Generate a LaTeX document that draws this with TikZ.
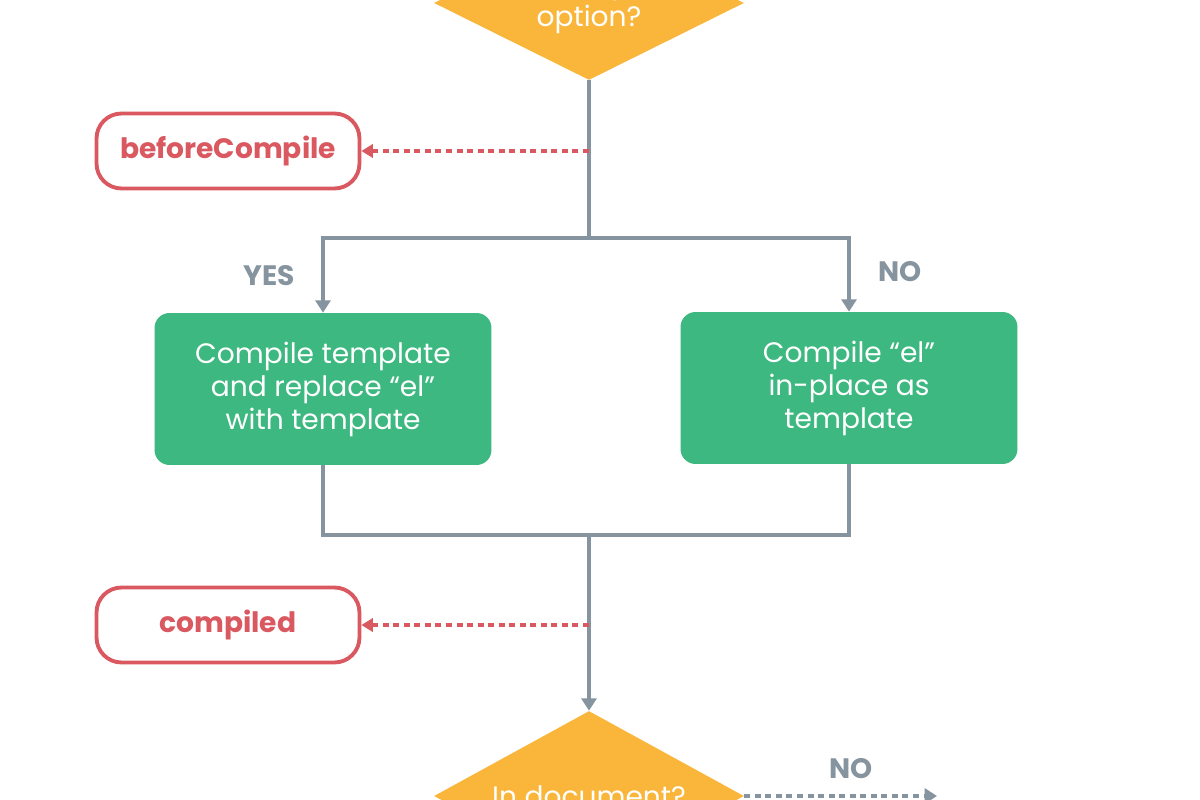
\documentclass[tikz,border=0pt]{standalone}
\usepackage{fontspec}
\setmainfont{Poppins}
\usetikzlibrary{arrows.meta,positioning,calc,shapes.geometric}
\tikzset{>={Triangle[width=8.5pt,length=7pt]}}
\definecolor{decisioncolor}{RGB}{249,182,58}
\definecolor{stepcolor}{RGB}{61,184,128}
\definecolor{hookcolor}{RGB}{218,88,96}
\definecolor{flowcolor}{RGB}{133,148,158}
\newcommand{\diagfont}{\fontsize{16pt}{18.8pt}\selectfont}
\tikzset{
  decision/.style={diamond,fill=decisioncolor,minimum width=6.2cm,
    minimum height=3.4cm,inner sep=0pt},
  decisiontext/.style={text=white,align=center,inner sep=0pt},
  stepbox/.style={rectangle,rounded corners=0.3cm,fill=stepcolor,minimum width=6.74cm,
    minimum height=3.04cm,text=white,align=center},
  hook/.style={rectangle,rounded corners=0.5cm,draw=hookcolor,line width=2.2pt,
    minimum width=5.26cm,minimum height=1.5cm,text=hookcolor,font=\diagfont\bfseries},
  branch/.style={text=flowcolor,font=\diagfont\bfseries},
  flow/.style={draw=flowcolor,line width=2.2pt},
  hookline/.style={draw=hookcolor,line width=2.2pt,dash pattern=on 3.4pt off 2.6pt,
    -{Triangle[width=7.5pt,length=6.5pt]}},
  noline/.style={draw=flowcolor,line width=2.2pt,dash pattern=on 3.4pt off 2.6pt,->}
}

\begin{document}
\begin{tikzpicture}[x=0.02cm,y=-0.02cm,every node/.style={font=\diagfont}]
\useasboundingbox (0,0) rectangle (1200,800);
\fill[white] (0,0) rectangle (1200,800);

\node[decision,minimum height=3.08cm] (hasTemplate) at (589,3) {};
\node[decisiontext] (hasTemplateText) at (hasTemplate.center) {Has “template”\\option?};
\node[hook] (beforeCompile) at (228,151) {beforeCompile};
\coordinate (split) at (589,238);
\node[stepbox] (compileTemplate) at (323,389) {Compile template\\and replace “el”\\with template};
\node[stepbox] (compileEl) at (849,388) {Compile “el”\\in-place as\\template};
\coordinate (join) at (589,535);
\node[hook] (compiled) at (228,625) {compiled};
\node[decision] (inDocument) at (589,796) {};
\node[decisiontext] (inDocumentText) at (inDocument.center) {In document?};
\coordinate (notInDocument) at (937,796);

\node[branch] (yes) at (269,276) {YES};
\node[branch] (noTemplate) at (900,272) {NO};
\node[branch] (noDocument) at (851,769) {NO};

\draw[flow] (hasTemplate.south) -- (split);
\draw[flow,->] (split) -| (compileTemplate.north);
\draw[flow,->] (split) -| (compileEl.north);
\draw[flow] (compileTemplate.south) |- (join);
\draw[flow] (compileEl.south) |- (join);
\draw[flow,->] (join) -- (inDocument.north);
\draw[hookline] (beforeCompile.east -| split) -- (beforeCompile.east);
\draw[hookline] (compiled.east -| join) -- (compiled.east);
\draw[noline] (inDocument.east) -- (notInDocument);
\end{tikzpicture}
\end{document}
